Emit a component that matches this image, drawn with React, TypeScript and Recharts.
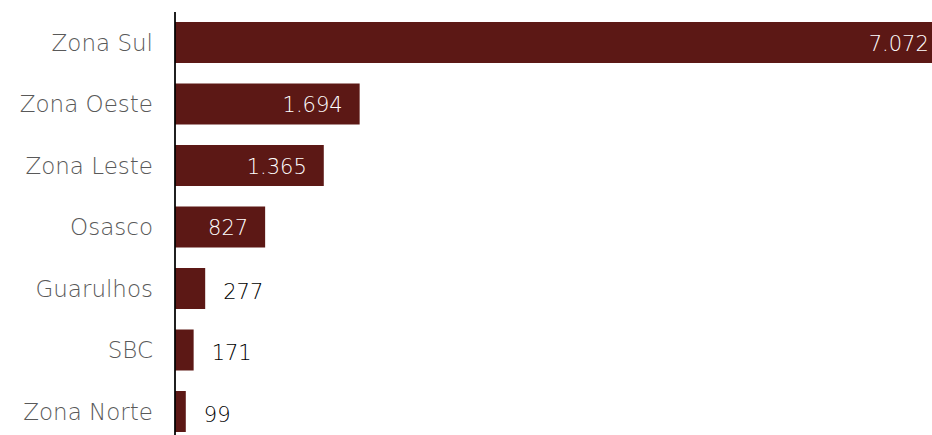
import React from 'react';
import { BarChart, Bar, XAxis, YAxis, LabelList } from 'recharts';

const categories = ['Zona Sul', 'Zona Oeste', 'Zona Leste', 'Osasco', 'Guarulhos', 'SBC', 'Zona Norte'];
const values = [7072, 1694, 1365, 827, 277, 171, 99];

const data = categories.map((name, i) => ({ name, value: values[i] }));

if (typeof document !== 'undefined') {
  document.body.style.margin = '0';
}

const FONT = '"DejaVu Sans", sans-serif';
const BAR_COLOR = '#5c1815';

const fmt = (v: number) => String(Math.round(v)).replace(/\B(?=(\d{3})+(?!\d))/g, '.');

const renderLabel = (props: any) => {
  const { x, y, width, height, value } = props;
  const v = Number(value);
  const cy = Number(y) + Number(height) / 2;
  const end = Number(x) + Number(width);
  if (v >= 500) {
    return (
      <text
        x={end - 17}
        y={cy + 1}
        textAnchor="end"
        dominantBaseline="central"
        fill="#ffffff"
        fontFamily={FONT}
        fontSize={21}
        fontWeight={300}
      >
        {fmt(v)}
      </text>
    );
  }
  return (
    <text
      x={end + 18}
      y={cy + 3}
      textAnchor="start"
      dominantBaseline="central"
      fill="#000000"
      fontFamily={FONT}
      fontSize={21}
      fontWeight={300}
    >
      {fmt(v)}
    </text>
  );
};

export default function App() {
  return (
    <div style={{ width: 932, height: 435, overflow: 'hidden', position: 'relative', background: '#ffffff' }}>
      <BarChart
        width={1047}
        height={443}
        data={data}
        layout="vertical"
        margin={{ top: 12, right: 0, bottom: 0.5, left: 0 }}
      >
        <XAxis type="number" domain={[0, 8000]} hide />
        <YAxis
          type="category"
          dataKey="name"
          width={175}
          tickSize={0}
          tickMargin={22}
          tickLine={false}
          axisLine={{ stroke: '#000000', strokeWidth: 1.75 }}
          tick={{ fill: '#595959', fontSize: 23, fontFamily: FONT, fontWeight: 300 }}
          interval={0}
        />
        <Bar dataKey="value" fill={BAR_COLOR} barSize={41} isAnimationActive={false}>
          <LabelList dataKey="value" content={renderLabel} />
        </Bar>
      </BarChart>
    </div>
  );
}
